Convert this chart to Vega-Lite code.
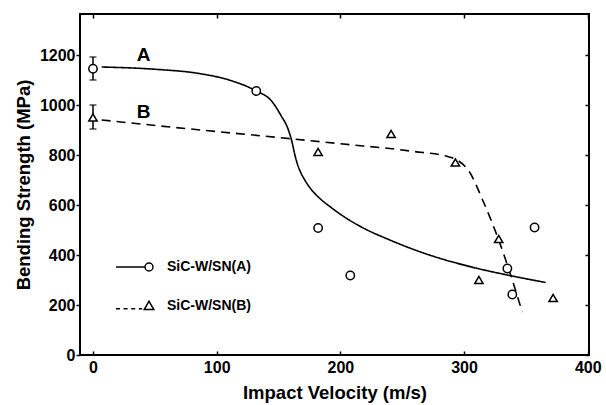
{
  "$schema": "https://vega.github.io/schema/vega-lite/v6.json",
  "width": 509,
  "height": 341,
  "autosize": {"type": "none"},
  "padding": {"left": 80, "top": 14, "right": 17, "bottom": 50},
  "background": "white",
  "config": {
    "view": {"stroke": "black", "strokeWidth": 2},
    "font": "Liberation Sans",
    "axis": {
      "grid": false,
      "domain": false,
      "labelFont": "Liberation Sans",
      "labelFontWeight": "bold",
      "labelFontSize": 16,
      "labelColor": "black",
      "tickColor": "black",
      "tickWidth": 1.5,
      "titleFont": "Liberation Sans",
      "titleFontWeight": "bold",
      "titleFontSize": 18.5,
      "titleColor": "black"
    }
  },
  "datasets": {
    "points": [
      {"series": "SiC-W/SN(A)", "velocity": 0, "strength": 1145},
      {"series": "SiC-W/SN(A)", "velocity": 132, "strength": 1056},
      {"series": "SiC-W/SN(A)", "velocity": 182, "strength": 508},
      {"series": "SiC-W/SN(A)", "velocity": 208, "strength": 318},
      {"series": "SiC-W/SN(A)", "velocity": 335, "strength": 346},
      {"series": "SiC-W/SN(A)", "velocity": 339, "strength": 242},
      {"series": "SiC-W/SN(A)", "velocity": 357, "strength": 510},
      {"series": "SiC-W/SN(B)", "velocity": 0, "strength": 950},
      {"series": "SiC-W/SN(B)", "velocity": 182, "strength": 812},
      {"series": "SiC-W/SN(B)", "velocity": 241, "strength": 884},
      {"series": "SiC-W/SN(B)", "velocity": 293, "strength": 770},
      {"series": "SiC-W/SN(B)", "velocity": 312, "strength": 300},
      {"series": "SiC-W/SN(B)", "velocity": 328, "strength": 464},
      {"series": "SiC-W/SN(B)", "velocity": 372, "strength": 228}
    ],
    "errors": [
      {"series": "SiC-W/SN(A)", "velocity": 0, "low": 1100, "high": 1192},
      {"series": "SiC-W/SN(B)", "velocity": 0, "low": 904, "high": 1000}
    ],
    "curves": [
      {"series": "SiC-W/SN(A)", "velocity": 7, "strength": 1152},
      {"series": "SiC-W/SN(A)", "velocity": 50, "strength": 1143},
      {"series": "SiC-W/SN(A)", "velocity": 87, "strength": 1125},
      {"series": "SiC-W/SN(A)", "velocity": 110, "strength": 1100},
      {"series": "SiC-W/SN(A)", "velocity": 132, "strength": 1056},
      {"series": "SiC-W/SN(A)", "velocity": 144, "strength": 1018},
      {"series": "SiC-W/SN(A)", "velocity": 152, "strength": 958},
      {"series": "SiC-W/SN(A)", "velocity": 158, "strength": 900},
      {"series": "SiC-W/SN(A)", "velocity": 161, "strength": 850},
      {"series": "SiC-W/SN(A)", "velocity": 163, "strength": 805},
      {"series": "SiC-W/SN(A)", "velocity": 165, "strength": 768},
      {"series": "SiC-W/SN(A)", "velocity": 167.5, "strength": 735},
      {"series": "SiC-W/SN(A)", "velocity": 171, "strength": 702},
      {"series": "SiC-W/SN(A)", "velocity": 176, "strength": 665},
      {"series": "SiC-W/SN(A)", "velocity": 183, "strength": 628},
      {"series": "SiC-W/SN(A)", "velocity": 192, "strength": 592},
      {"series": "SiC-W/SN(A)", "velocity": 203, "strength": 553},
      {"series": "SiC-W/SN(A)", "velocity": 217, "strength": 512},
      {"series": "SiC-W/SN(A)", "velocity": 240, "strength": 460},
      {"series": "SiC-W/SN(A)", "velocity": 266, "strength": 410},
      {"series": "SiC-W/SN(A)", "velocity": 306, "strength": 352},
      {"series": "SiC-W/SN(A)", "velocity": 333, "strength": 322},
      {"series": "SiC-W/SN(A)", "velocity": 366, "strength": 290},
      {"series": "SiC-W/SN(B)", "velocity": 7, "strength": 940},
      {"series": "SiC-W/SN(B)", "velocity": 87, "strength": 900},
      {"series": "SiC-W/SN(B)", "velocity": 150, "strength": 870},
      {"series": "SiC-W/SN(B)", "velocity": 200, "strength": 845},
      {"series": "SiC-W/SN(B)", "velocity": 258, "strength": 815},
      {"series": "SiC-W/SN(B)", "velocity": 288, "strength": 792},
      {"series": "SiC-W/SN(B)", "velocity": 296, "strength": 775},
      {"series": "SiC-W/SN(B)", "velocity": 304, "strength": 735},
      {"series": "SiC-W/SN(B)", "velocity": 315, "strength": 620},
      {"series": "SiC-W/SN(B)", "velocity": 328, "strength": 460},
      {"series": "SiC-W/SN(B)", "velocity": 339, "strength": 300},
      {"series": "SiC-W/SN(B)", "velocity": 347, "strength": 172}
    ],
    "labels": [
      {"velocity": 41, "strength": 1200, "label": "A"},
      {"velocity": 41, "strength": 972, "label": "B"}
    ]
  },
  "resolve": {
    "scale": {"shape": "independent"},
    "axis": {"x": "independent", "y": "independent"}
  },
  "layer": [
    {
      "data": {"name": "curves"},
      "mark": {"type": "line", "interpolate": "monotone", "color": "black", "strokeWidth": 1.6},
      "encoding": {
        "x": {"field": "velocity", "type": "quantitative", "scale": {"domain": [-10.5, 401], "nice": false, "zero": false}, "axis": null},
        "y": {"field": "strength", "type": "quantitative", "scale": {"domain": [0, 1364], "nice": false}, "axis": null},
        "detail": {"field": "series"},
        "strokeDash": {"field": "series", "type": "nominal", "scale": {"domain": ["SiC-W/SN(A)", "SiC-W/SN(B)"], "range": [[1, 0], [9, 6]]}, "legend": null}
      }
    },
    {
      "data": {"name": "errors"},
      "mark": {"type": "errorbar", "ticks": {"size": 7}, "thickness": 1.5, "color": "black"},
      "encoding": {
        "x": {"field": "velocity", "type": "quantitative", "scale": {"domain": [-10.5, 401], "nice": false, "zero": false}, "axis": null},
        "y": {"field": "low", "type": "quantitative", "scale": {"domain": [0, 1364], "nice": false}, "axis": null},
        "y2": {"field": "high"}
      }
    },
    {
      "data": {"name": "points"},
      "mark": {"type": "point", "filled": false, "fill": "white", "stroke": "black", "strokeWidth": 1.5, "size": 70, "opacity": 1},
      "encoding": {
        "x": {"field": "velocity", "type": "quantitative", "scale": {"domain": [-10.5, 401], "nice": false, "zero": false},
          "axis": {"orient": "bottom", "values": [0, 100, 200, 300, 400], "format": "d", "title": "Impact Velocity (m/s)", "tickSize": -4, "labelPadding": 8, "titlePadding": 8}},
        "y": {"field": "strength", "type": "quantitative", "scale": {"domain": [0, 1364], "nice": false},
          "axis": {"orient": "left", "values": [0, 200, 400, 600, 800, 1000, 1200], "format": "d", "title": "Bending Strength (MPa)", "tickSize": 4, "labelPadding": 1, "titlePadding": 6}},
        "shape": {"field": "series", "type": "nominal", "scale": {"domain": ["SiC-W/SN(A)", "SiC-W/SN(B)"], "range": ["circle", "triangle-up"]}, "legend": null}
      }
    },
    {
      "data": {"name": "points"},
      "mark": {"type": "point", "filled": false, "stroke": "black", "size": 64, "opacity": 0},
      "encoding": {
        "x": {"field": "velocity", "type": "quantitative", "scale": {"domain": [-10.5, 401], "nice": false, "zero": false}, "axis": null},
        "y": {"field": "strength", "type": "quantitative", "scale": {"domain": [0, 1364], "nice": false}, "axis": null},
        "shape": {
          "field": "series", "type": "nominal",
          "scale": {"domain": ["SiC-W/SN(A)", "SiC-W/SN(B)"], "range": [
            "M -8.25 0 L -1 0 M 1 0 A 1 1 0 1 0 -1 0 A 1 1 0 1 0 1 0",
            "M -8.25 0.7 L -7.25 0.7 M -6.35 0.7 L -5.35 0.7 M -4.45 0.7 L -3.45 0.7 M -2.55 0.7 L -1.7 0.7 M -1.2 0.9 L 1.2 0.9 L 0 -1.2 Z"
          ]},
          "legend": {
            "orient": "none", "legendX": 62, "legendY": 246, "title": null,
            "symbolStrokeColor": "black", "symbolFillColor": "white", "symbolStrokeWidth": 1.5, "symbolSize": 64, "symbolOpacity": 1,
            "labelFont": "Liberation Sans", "labelFontSize": 14, "labelFontWeight": "bold", "labelColor": "black",
            "labelOffset": 11, "rowPadding": 24, "padding": 0
          }
        }
      }
    },
    {
      "data": {"name": "labels"},
      "mark": {"type": "text", "font": "Liberation Sans", "fontWeight": "bold", "fontSize": 19, "color": "black", "baseline": "middle", "align": "center"},
      "encoding": {
        "x": {"field": "velocity", "type": "quantitative", "scale": {"domain": [-10.5, 401], "nice": false, "zero": false},
          "axis": {"orient": "top", "values": [0, 100, 200, 300, 400], "labels": false, "title": null, "tickSize": -4}},
        "y": {"field": "strength", "type": "quantitative", "scale": {"domain": [0, 1364], "nice": false},
          "axis": {"orient": "right", "values": [0, 200, 400, 600, 800, 1000, 1200], "labels": false, "title": null, "tickSize": -4}},
        "text": {"field": "label"}
      }
    }
  ]
}
